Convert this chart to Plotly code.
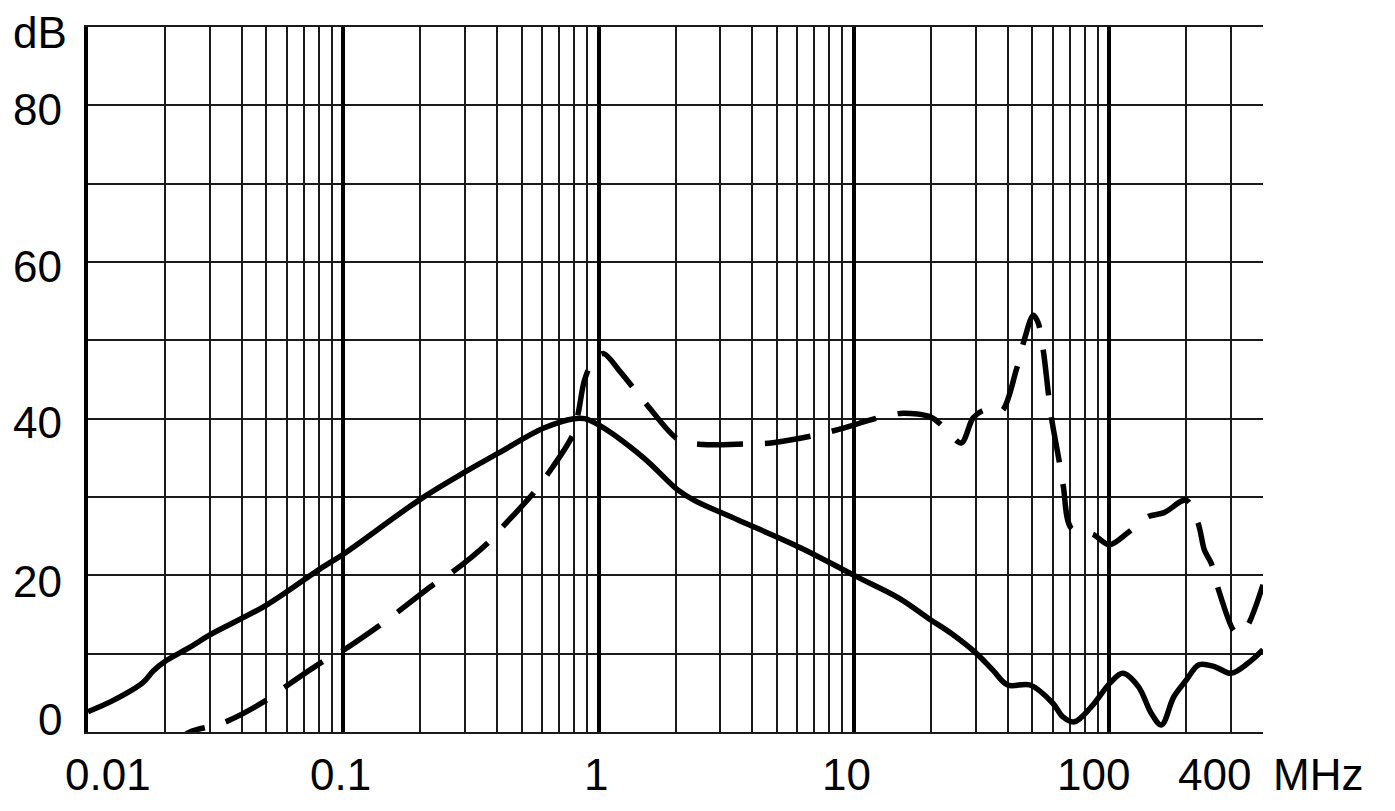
import math
import plotly.graph_objects as go

# ---- data ----
solid_freq = [0.01, 0.0125, 0.0164, 0.018, 0.02, 0.025, 0.03, 0.05, 0.08, 0.1, 0.2, 0.3, 0.41, 0.61, 0.8, 0.88, 1.0,
              1.5, 2.04, 2.36, 3.5, 6.2, 10, 15, 20, 24, 30, 35, 40, 49, 60, 66, 73, 85, 101, 113,
              130, 146, 160, 179, 200, 225, 260, 300, 350, 400]
solid_db = [2.6, 4.0, 6.3, 7.8, 9.0, 10.8, 12.4, 16.2, 20.7, 22.7, 29.7, 33.2, 35.7, 38.8, 40.0, 40.0, 39.2,
            35.0, 30.9, 29.6, 27.1, 23.5, 20.0, 17.1, 14.3, 12.6, 10.1, 7.9, 6.0, 6.0, 3.7, 1.9, 1.3, 3.2, 6.3, 7.5,
            5.8, 2.4, 0.9, 4.5, 6.6, 8.6, 8.3, 7.5, 8.8, 10.5]

dashed_freq = [0.02, 0.0251, 0.0335, 0.0485, 0.0582, 0.0813, 0.0974, 0.136, 0.163, 0.225, 0.267, 0.367,
               0.424, 0.556, 0.631, 0.791, 0.834, 0.88, 0.96, 1.046, 1.2, 1.37, 1.57, 2.06, 2.56, 3.84,
               4.73, 7.1, 8.65, 12.8, 15.6, 20.0, 22.5, 26.3, 29.3, 32.4, 37.7, 43.2, 46.4, 50.4, 52.7,
               55.1, 57.7, 59.3, 63.7, 66.1, 71.0, 86.5, 100, 118.8, 142, 164, 200, 223, 236, 251, 267,
               306, 320, 344, 400]
dashed_db = [-2.2, 0.0, 1.1, 3.8, 5.6, 8.8, 10.2, 13.4, 15.3, 18.8, 20.4, 24.1,
             26.3, 30.5, 32.9, 37.9, 40.9, 44.9, 47.6, 48.3, 46.2, 43.9, 41.5, 37.3, 36.7, 36.8,
             36.9, 37.9, 38.6, 40.2, 40.7, 40.2, 38.9, 36.9, 40.1, 41.1, 40.9, 46.2, 50.0, 53.2, 52.2,
             48.8, 43.3, 40.2, 34.5, 31.3, 26.0, 25.2, 23.9, 25.5, 27.5, 28.0, 29.6, 26.6, 23.2, 21.5, 18.3,
             13.0, 12.5, 13.3, 18.8]

x_tick_vals = [0.01, 0.1, 1, 10, 100, 400]
x_tick_text = ["0.01", "0.1", "1", "10", "100", "400"]
y_tick_vals = [0, 20, 40, 60, 80]
y_tick_text = ["0", "20", "40", "60", "80"]
x_unit = "MHz"
y_unit = "dB"

decades = [0.01, 0.1, 1, 10, 100]
x_min, x_max = 0.01, 400
y_min, y_max = 0, 90

# ---- styling ----
FONT = "Liberation Sans, Arial, sans-serif"
FS = 44
x_label_shift = {"0.01": 20, "0.1": -3, "1": -3, "10": -7, "100": -16, "400": -49}
y_label_shift = {"0": 13, "20": -6, "40": -4, "60": -4, "80": -4}

minor_grid = [m * d for d in decades for m in range(1, 10) if x_min <= m * d <= x_max]

fig = go.Figure()
fig.add_trace(go.Scatter(x=dashed_freq, y=dashed_db, mode="lines",
                         line=dict(color="black", width=5.5, dash="46px,22px", shape="spline", smoothing=0.9),
                         hoverinfo="skip", showlegend=False))
fig.add_trace(go.Scatter(x=solid_freq, y=solid_db, mode="lines",
                         line=dict(color="black", width=5.5, shape="spline", smoothing=1.0),
                         hoverinfo="skip", showlegend=False))
# invisible trace to anchor the overlay axis with the heavy decade lines
fig.add_trace(go.Scatter(x=[x_min, x_max], y=[y_min, y_min], xaxis="x2", mode="lines",
                         line=dict(width=0), hoverinfo="skip", showlegend=False))

lx = [math.log10(x_min), math.log10(x_max)]
fig.update_layout(
    width=1395, height=811,
    margin=dict(l=88, r=132, t=27, b=79),
    paper_bgcolor="white", plot_bgcolor="white",
    xaxis=dict(type="log", range=lx, tickvals=minor_grid, showticklabels=False, ticks="",
               showgrid=True, gridcolor="#1a1a1a", gridwidth=2, zeroline=False,
               showline=True, linecolor="#1a1a1a", linewidth=2, mirror=True),
    xaxis2=dict(type="log", range=lx, overlaying="x", tickvals=decades, showticklabels=False, ticks="",
                showgrid=True, gridcolor="black", gridwidth=3.5, zeroline=False, showline=False),
    yaxis=dict(range=[y_min, y_max], tickvals=list(range(0, 91, 10)), showticklabels=False, ticks="",
               showgrid=True, gridcolor="#1a1a1a", gridwidth=2, zeroline=False,
               showline=True, linecolor="black", linewidth=4),
    showlegend=False,
)

ann = []
for v, t in zip(x_tick_vals, x_tick_text):
    ann.append(dict(x=math.log10(v), y=0, xref="x", yref="paper", text=t, showarrow=False,
                    xanchor="center", yanchor="middle", xshift=x_label_shift[t], yshift=-42,
                    font=dict(family=FONT, size=FS, color="black")))
ann.append(dict(x=1, y=0, xref="paper", yref="paper", text=x_unit, showarrow=False,
                xanchor="left", yanchor="middle", xshift=8, yshift=-42,
                font=dict(family=FONT, size=FS, color="black")))
for v, t in zip(y_tick_vals, y_tick_text):
    ann.append(dict(x=0, y=v, xref="paper", yref="y", text=t, showarrow=False,
                    xanchor="right", yanchor="middle", xshift=-24, yshift=y_label_shift[t],
                    font=dict(family=FONT, size=FS, color="black")))
ann.append(dict(x=0, y=y_max, xref="paper", yref="y", text=y_unit, showarrow=False,
                xanchor="right", yanchor="middle", xshift=-19, yshift=-5,
                font=dict(family=FONT, size=FS, color="black")))
fig.update_layout(annotations=ann)

fig.write_html("out.html", config={"displayModeBar": False},
               post_script="document.body.style.margin='0';document.body.style.overflow='hidden';")
